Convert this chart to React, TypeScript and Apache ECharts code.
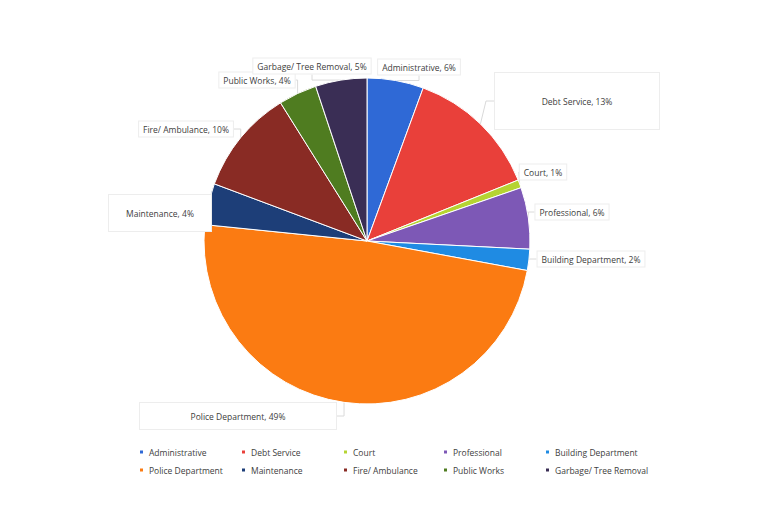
import React, { useEffect, useRef } from "react";
import * as echarts from "echarts";

const categories = [
  "Administrative",
  "Debt Service",
  "Court",
  "Professional",
  "Building Department",
  "Police Department",
  "Maintenance",
  "Fire/ Ambulance",
  "Public Works",
  "Garbage/ Tree Removal",
];
const values = [5.6, 13.3, 0.8, 6.1, 2.1, 48.7, 4.1, 10.4, 3.8, 5.1];

const colors = [
  "#2f69d6",
  "#e9403a",
  "#b5d432",
  "#7d58b6",
  "#1f8be3",
  "#fb7b12",
  "#1d3e78",
  "#892b24",
  "#4f7c20",
  "#3a2e55",
];
// label centre positions (layout only)
const labelPos: [number, number][] = [
  [419, 67],
  [577, 101],
  [543, 172],
  [572, 212],
  [591, 259],
  [238, 416],
  [160, 213],
  [186, 129],
  [257, 80],
  [312, 66],
];
const legendLeft = [138, 240, 342, 442, 544];

export default function App() {
  const ref = useRef<HTMLDivElement>(null);
  useEffect(() => {
    if (!ref.current) return;
    const chart = echarts.init(ref.current, undefined, { renderer: "svg" });
    const txt = "#404040";
    const font = "'Open Sans', sans-serif";
    const legends = legendLeft.map((x, i) => ({
      orient: "vertical" as const,
      left: x,
      top: 446,
      padding: 0,
      itemWidth: 5,
      itemHeight: 5,
      itemGap: 6,
      icon: "rect",
      data: [categories[i], categories[i + 5]],
      textStyle: { color: txt, fontSize: 8.5, fontFamily: font, lineHeight: 12 },
    }));
    chart.setOption({
      animation: false,
      backgroundColor: "#ffffff",
      color: colors,
      legend: legends,
      series: [
        {
          type: "pie",
          center: [367, 241],
          radius: 163,
          startAngle: 90,
          clockwise: true,
          percentPrecision: 0,
          itemStyle: { borderColor: "#ffffff", borderWidth: 1 },
          label: {
            show: true,
            formatter: "{b}, {d}%",
            color: txt,
            fontSize: 8.5,
            fontFamily: font,
            backgroundColor: "#ffffff",
            borderColor: "#ededed",
            borderWidth: 1,
            padding: [3, 4],
          },
          labelLine: {
            show: true,
            length: 8,
            length2: 8,
            lineStyle: { color: "#dadada", width: 1 },
          },
          labelLayout: (params: any) => {
            const p = labelPos[params.dataIndex];
            return { x: p[0], y: p[1], align: "center", verticalAlign: "middle" };
          },
          data: categories.map((name, i) => {
            const d: any = { name, value: values[i] };
            if (name === "Debt Service") {
              d.label = { width: 156, height: 50, align: "center", verticalAlign: "middle", lineHeight: 50 };
            }
            if (name === "Police Department") {
              d.label = { width: 188, height: 20, align: "center", lineHeight: 20 };
            }
            if (name === "Maintenance") {
              d.label = { width: 94, height: 30, align: "center", lineHeight: 30 };
            }
            return d;
          }),
        },
      ],
    });
    return () => chart.dispose();
  }, []);
  return (
    <div
      ref={ref}
      style={{ position: "fixed", left: 0, top: 0, width: 768, height: 523, background: "#fff" }}
    />
  );
}
